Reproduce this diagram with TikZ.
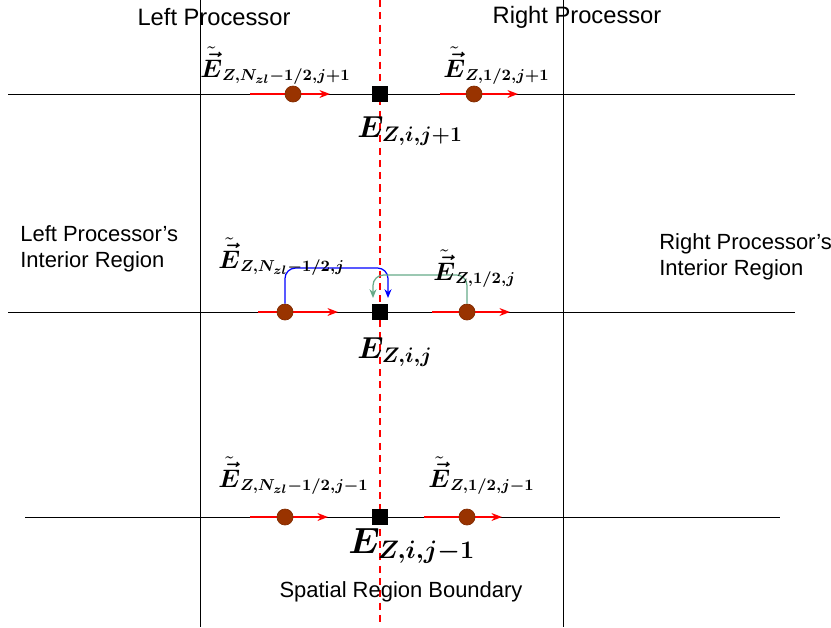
\documentclass[tikz,border=0pt]{standalone}
\usepackage{fontspec}
\setmainfont{Liberation Sans}
\usepackage{amsmath, bm}
\usetikzlibrary{arrows.meta, positioning}
\definecolor{dotbrown}{RGB}{153,51,0}
\definecolor{linkgreen}{RGB}{102,170,136}
\tikzset{
  gridline/.style={black, line width=0.5pt},
  boundary/.style={red, line width=0.7pt, dash pattern=on 4pt off 3pt},
  fieldarrow/.style={red, line width=0.9pt, -{Stealth[length=6pt, width=4.5pt]}},
  fielddot/.style={circle, fill=dotbrown, draw=dotbrown!85!black, minimum size=0.32cm, inner sep=0pt},
  nodesq/.style={rectangle, fill=black, minimum size=0.32cm, inner sep=0pt},
  plain/.style={font=\fontsize{12.5}{14.7}\selectfont, align=left, inner sep=0pt},
  elabel/.style={font=\LARGE, anchor=base west, inner sep=0pt},
  tlabel/.style={font=\fontsize{13.5}{16}\selectfont, anchor=base west, inner sep=0pt},
  link/.style={line width=0.7pt, rounded corners=6pt, -{Stealth[length=5pt, width=4pt]}}
}

\begin{document}
\begin{tikzpicture}[x=0.02cm, y=-0.02cm]
  \useasboundingbox (0,0) rectangle (831,627);

  \draw[gridline] (200,0) -- (200,627);
  \draw[gridline] (563,0) -- (563,627);
  \draw[gridline] (8,94) -- (795,94);
  \draw[gridline] (8,312) -- (795,312);
  \draw[gridline] (25,517) -- (780,517);
  \draw[boundary] (380,0) -- (380,627);

  \node[nodesq] (sq top) at (380,94) {};
  \node[nodesq] (sq mid) at (380,312) {};
  \node[nodesq] (sq bot) at (380,517) {};

  \coordinate (al top) at (250,94);  \coordinate (bl top) at (330,94);
  \coordinate (ar top) at (440,94);  \coordinate (br top) at (518,94);
  \coordinate (al mid) at (258,312); \coordinate (bl mid) at (338,312);
  \coordinate (ar mid) at (432,312); \coordinate (br mid) at (510,312);
  \coordinate (al bot) at (250,517); \coordinate (bl bot) at (328,517);
  \coordinate (ar bot) at (424,517); \coordinate (br bot) at (502,517);
  \foreach \r in {top, mid, bot} {
    \draw[fieldarrow] (al \r) -- (bl \r);
    \draw[fieldarrow] (ar \r) -- (br \r);
  }
  \node[fielddot] (dl top) at (293,94) {};
  \node[fielddot] (dr top) at (474,94) {};
  \node[fielddot] (dl mid) at (285,312) {};
  \node[fielddot] (dr mid) at (467,312) {};
  \node[fielddot] (dl bot) at (285,517) {};
  \node[fielddot] (dr bot) at (467,517) {};

  \coordinate (blue end) at (388,298);
  \coordinate (green end) at (373,298);
  \draw[link, blue] (dl mid.north) |- (388,268) -- (blue end);
  \draw[link, linkgreen] (dr mid.north) |- (373,275) -- (green end);

  \node[plain, font=\fontsize{13.5}{16}\selectfont] (left proc) at (214,17) {Left Processor};
  \node[plain, font=\fontsize{13.5}{16}\selectfont] (right proc) at (577,17) {Right Processor};
  \node[plain, anchor=west] (left int) at (20,249) {Left Processor’s\\Interior Region};
  \node[plain, anchor=west] (right int) at (659,257) {Right Processor’s\\Interior Region};
  \node[plain] (boundary lbl) at (401,592) {Spatial Region Boundary};

  \node[elabel] (e top) at (357,137) {$\bm{E_{Z,i,j+1}}$};
  \node[elabel] (e mid) at (357,358) {$\bm{E_{Z,i,j}}$};
  \node[elabel, font=\fontsize{19.5}{22}\selectfont] (e bot) at (348,553) {$\bm{E_{Z,i,j-1}}$};

  \node[tlabel] (t tl) at (200,77) {$\bm{\tilde{\vec{E}}_{Z,N_{zl}-1/2,j+1}}$};
  \node[tlabel] (t tr) at (443,77) {$\bm{\tilde{\vec{E}}_{Z,1/2,j+1}}$};
  \node[tlabel] (t ml) at (218,268) {$\bm{\tilde{\vec{E}}_{Z,N_{zl}-1/2,j}}$};
  \node[tlabel] (t mr) at (433,280) {$\bm{\tilde{\vec{E}}_{Z,1/2,j}}$};
  \node[tlabel] (t bl) at (218,487) {$\bm{\tilde{\vec{E}}_{Z,N_{zl}-1/2,j-1}}$};
  \node[tlabel] (t br) at (428,487) {$\bm{\tilde{\vec{E}}_{Z,1/2,j-1}}$};
\end{tikzpicture}
\end{document}
